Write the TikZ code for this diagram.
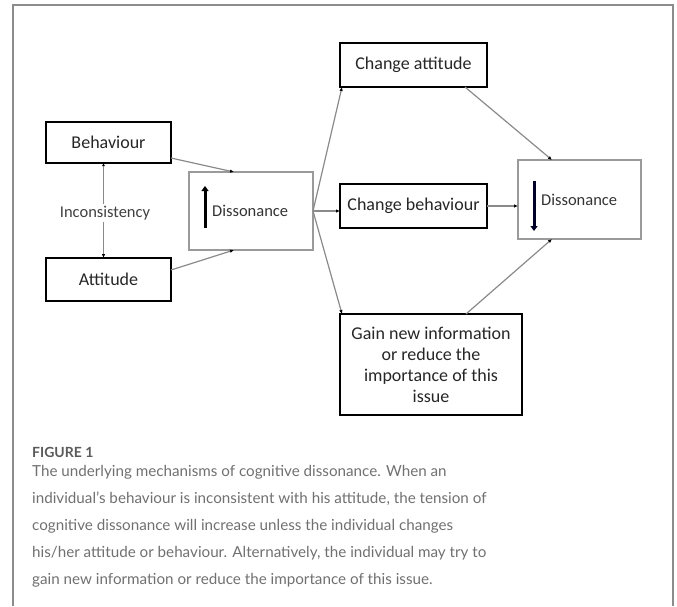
\documentclass[tikz,border=0pt]{standalone}
\usepackage{fontspec}
\setmainfont{Carlito}
\newfontfamily\capfont{Lato}
\usetikzlibrary{arrows.meta,calc}
\definecolor{conn}{HTML}{8A8A8A}
\definecolor{frame}{HTML}{8C8C8C}
\definecolor{captxt}{HTML}{707070}
\definecolor{caphead}{HTML}{5A5A5A}
\definecolor{disbox}{HTML}{9A9A9A}
\begin{document}
\begin{tikzpicture}[x=1pt,y=-1pt,
  box/.style={draw=black,line width=1.1pt,inner sep=0pt,outer sep=0pt,align=center,
    font=\fontsize{18}{21}\selectfont,text=black!85},
  disbox/.style={draw=disbox,line width=1.1pt,inner sep=0pt,outer sep=0pt},
  distext/.style={font=\fontsize{16.5}{19}\selectfont,text=black!80,inner sep=0pt,anchor=west},
  conn/.style={draw=conn,line width=1.2pt,-{Latex[length=4pt,width=3.5pt,color=black]}},
  bigarrow/.style={line width=3pt,-{Triangle[length=5pt,width=7pt]}},
  capline/.style={anchor=base west,inner sep=0pt,font=\capfont\fontsize{15.2}{18}\selectfont,text=captxt}
]
\useasboundingbox (0,0) rectangle (677,606);
% outer frame
\draw[frame,line width=1.5pt] (13,606) -- (13,5) -- (673,5) -- (673,606);

% nodes
\node[box,minimum width=125pt,minimum height=41pt] (beh) at (108.5,142.5) {Behaviour};
\node[box,minimum width=125pt,minimum height=43pt] (att) at (108.5,279.5) {Attitude};
\node[disbox,minimum width=124pt,minimum height=78pt] (dis1) at (251,211) {};
\node[box,minimum width=147pt,minimum height=44pt] (chatt) at (413.5,65) {Change attitude};
\node[box,minimum width=147pt,minimum height=44pt] (chbeh) at (413.5,206) {Change behaviour};
\node[disbox,minimum width=123pt,minimum height=79pt] (dis2) at (579.5,199.5) {};
\node[box,minimum width=182pt,minimum height=101pt] (gain) at (431,364.5)
  {Gain new information\\or reduce the\\importance of this\\issue};

% texts inside dissonance boxes
\node[distext] (d1t) at (212,211) {Dissonance};
\node[distext] (d2t) at (541,200) {Dissonance};
\coordinate (u1) at (205,228);
\coordinate (u2) at (205,186);
\draw[bigarrow,black] (u1) -- (u2);
\coordinate (w1) at (534,181);
\coordinate (w2) at (534,231);
\draw[bigarrow,black!85!blue] (w1) -- (w2);

% connectors
\draw[conn] ([yshift=5pt]beh.south east) -- ([xshift=-17pt]dis1.north);
\draw[conn] ([yshift=-12pt]att.north east) -- ([xshift=-17pt]dis1.south);
\node[font=\fontsize{16.5}{19}\selectfont,text=black!75,fill=white,inner sep=2pt] (inc) at (105,213) {Inconsistency};
\draw[conn,{Latex[length=3pt,width=3pt,color=black]}-] ([xshift=-5pt]beh.south) -- ([xshift=-5pt]beh.south |- inc.north);
\draw[conn] ([xshift=-5pt]att.north |- inc.south) -- ([xshift=-5pt]att.north);
\draw[conn] (dis1.east) -- ([xshift=2pt]chatt.south west);
\draw[conn] (dis1.east) -- (dis1.east -| chbeh.west);
\draw[conn] (dis1.east) -- ([xshift=2pt]gain.north west);
\draw[conn] ([xshift=51.5pt]chatt.south) -- ([xshift=-27.5pt]dis2.north);
\draw[conn] (chbeh.east) -- (chbeh.east -| dis2.west);
\draw[conn] ([xshift=35pt]gain.north) -- ([xshift=-27.5pt]dis2.south);

% caption
\node[anchor=base west,inner sep=0pt,font=\capfont\bfseries\fontsize{14}{16}\selectfont,text=caphead] (fig) at (32,457) {FIGURE 1};
\node[capline] (cap1) at (32,476) {The underlying mechanisms of cognitive dissonance. When an};
\node[capline] (cap2) at (32,503) {individual’s behaviour is inconsistent with his attitude, the tension of};
\node[capline] (cap3) at (32,530) {cognitive dissonance will increase unless the individual changes};
\node[capline] (cap4) at (32,557) {his/her attitude or behaviour. Alternatively, the individual may try to};
\node[capline] (cap5) at (32,584) {gain new information or reduce the importance of this issue.};
\end{tikzpicture}
\end{document}
